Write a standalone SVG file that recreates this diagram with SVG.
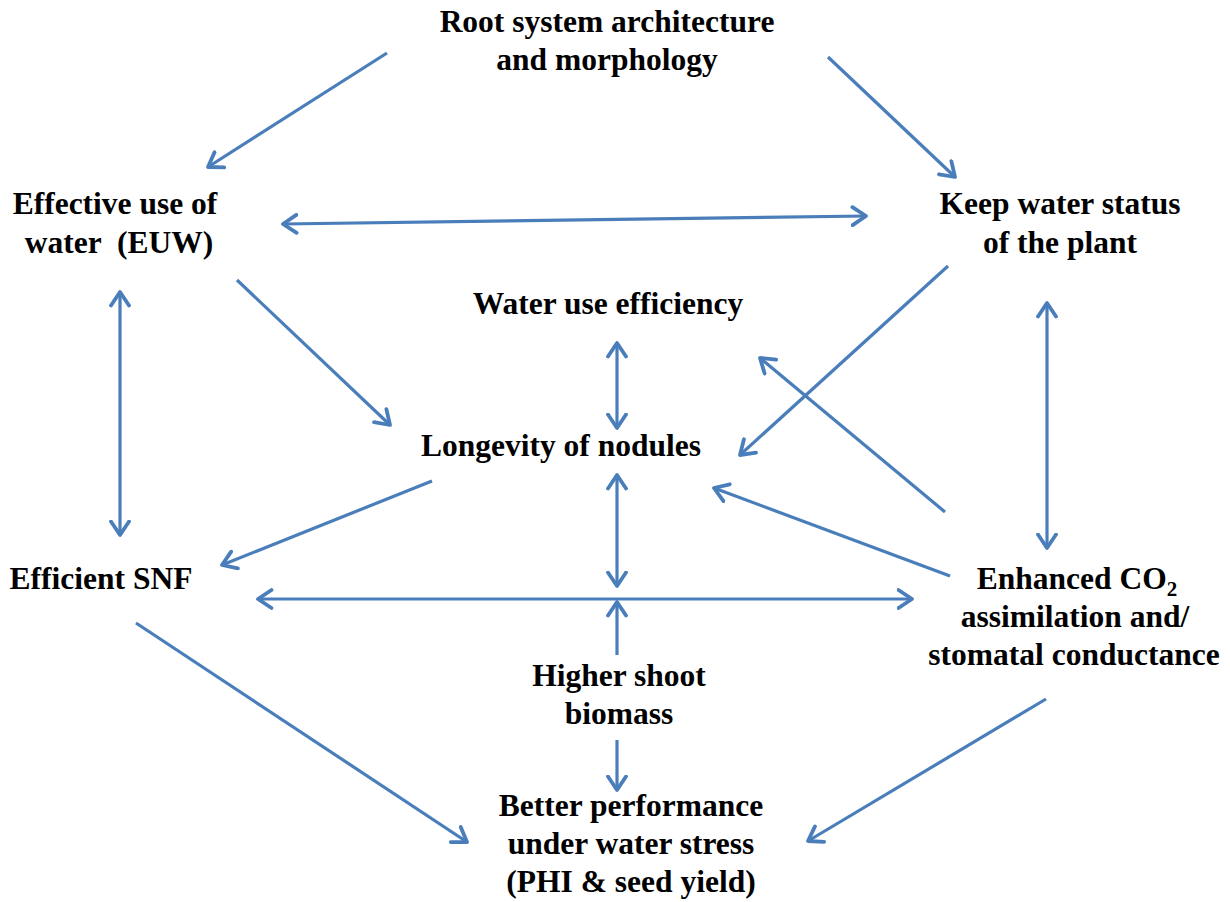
<svg xmlns="http://www.w3.org/2000/svg" width="1230" height="902" viewBox="0 0 1230 902">
<style>
text{font-family:"Liberation Serif","Times New Roman",serif;font-weight:bold;font-size:31.5px;fill:#000;text-anchor:middle}
.c line{stroke:#4a7ebb;stroke-width:3.2;fill:none;marker-end:url(#ah)}
.c line.d{marker-start:url(#ah)}
</style>
<defs>
<marker id="ah" markerUnits="userSpaceOnUse" viewBox="0 0 18 22" markerWidth="18" markerHeight="22" refX="15.5" refY="11" orient="auto-start-reverse">
<path d="M2,2 L15.5,11 L2,20" fill="none" stroke="#4a7ebb" stroke-width="3.8" stroke-linecap="round" stroke-linejoin="round"/>
</marker>
</defs>
<rect width="1230" height="902" fill="#fff"/>
<g id="root"><text x="607" y="32">Root system architecture</text><text x="607" y="70">and morphology</text></g>
<g id="euw"><text x="115" y="214">Effective use of</text><text x="119" y="253" xml:space="preserve">water  (EUW)</text></g>
<g id="keep"><text x="1060" y="214">Keep water status</text><text x="1060" y="253">of the plant</text></g>
<g id="wue"><text x="608" y="314">Water use efficiency</text></g>
<g id="nod"><text x="561" y="456">Longevity of nodules</text></g>
<g id="snf"><text x="101" y="589">Efficient SNF</text></g>
<g id="co2"><text x="1077" y="589">Enhanced CO<tspan font-size="21" dy="7">2</tspan></text><text x="1075" y="627">assimilation and/</text><text x="1074" y="665">stomatal conductance</text></g>
<g id="shoot"><text x="619" y="686">Higher shoot</text><text x="619" y="724">biomass</text></g>
<g id="perf"><text x="631" y="816">Better performance</text><text x="631" y="854">under water stress</text><text x="631" y="892">(PHI &amp; seed yield)</text></g>
<g class="c" id="connectors">
<line x1="387" y1="53" x2="208" y2="167"/>
<line x1="828" y1="57" x2="955" y2="177"/>
<line class="d" x1="283" y1="224" x2="866" y2="216"/>
<line class="d" x1="120" y1="292" x2="120" y2="535"/>
<line x1="237" y1="280" x2="390" y2="425"/>
<line x1="948" y1="266" x2="740" y2="455"/>
<line class="d" x1="1047" y1="303" x2="1047" y2="548"/>
<line class="d" x1="617" y1="343" x2="617" y2="428"/>
<line x1="945" y1="512" x2="760" y2="358"/>
<line x1="432" y1="481" x2="222" y2="565"/>
<line class="d" x1="617" y1="475" x2="617" y2="586"/>
<line class="d" x1="258" y1="599" x2="912" y2="599"/>
<line x1="950" y1="576" x2="714" y2="488"/>
<line x1="617" y1="655" x2="617" y2="602"/>
<line x1="617" y1="740" x2="617" y2="790"/>
<line x1="136" y1="623" x2="467" y2="842"/>
<line x1="1046" y1="699" x2="808" y2="841"/>
</g>
</svg>
